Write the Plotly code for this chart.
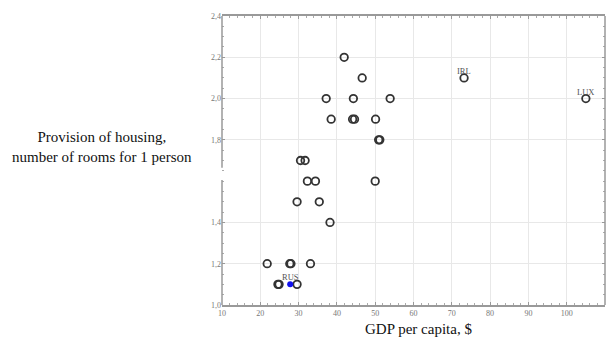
import plotly.graph_objects as go

gdp = [41.9, 46.6, 37.2, 44.3, 53.9, 38.5, 44.1, 44.6, 50.1, 50.9, 51.2, 30.5, 31.7,
       32.3, 34.4, 50.0, 29.6, 35.4, 38.2, 21.8, 27.7, 28.0, 33.1, 24.6, 24.9, 29.6]
rooms = [2.2, 2.1, 2.0, 2.0, 2.0, 1.9, 1.9, 1.9, 1.9, 1.8, 1.8, 1.7, 1.7,
         1.6, 1.6, 1.6, 1.5, 1.5, 1.4, 1.2, 1.2, 1.2, 1.2, 1.1, 1.1, 1.1]
lab_names = ["IRL", "LUX"]
lab_gdp = [73.2, 105.0]
lab_rooms = [2.1, 2.0]
rus_gdp = [27.8]
rus_rooms = [1.1]

x_ticks = [10, 20, 30, 40, 50, 60, 70, 80, 90, 100, 110]
y_ticks = [1.0, 1.2, 1.4, 1.8, 2.0, 2.2, 2.4]
serif = "Liberation Serif, Times New Roman, serif"

fig = go.Figure()
mk = dict(symbol="circle-open", size=7.5, color="#333333", line=dict(width=1.8, color="#333333"))
fig.add_trace(go.Scatter(x=gdp, y=rooms, mode="markers", marker=mk, showlegend=False))
fig.add_trace(go.Scatter(x=lab_gdp, y=lab_rooms, mode="markers", marker=mk, showlegend=False))
fig.add_trace(go.Scatter(x=rus_gdp, y=rus_rooms, mode="markers",
                         marker=dict(symbol="circle", size=6, color="#1010ee"), showlegend=False))
for name, xv, yv in zip(lab_names + ["RUS"], lab_gdp + rus_gdp, lab_rooms + rus_rooms):
    fig.add_annotation(x=xv, y=yv, text=name, showarrow=False, yshift=7,
                       font=dict(family=serif, size=8.5, color="#555555"))

axis_common = dict(showgrid=True, gridcolor="#e8e8e8", gridwidth=1, zeroline=False,
                   ticks="inside", ticklen=3, tickcolor="#999999",
                   tickfont=dict(family=serif, size=8, color="#777777"),
                   mirror="ticks", linecolor="#999999", linewidth=1.5)
fig.update_xaxes(range=[10, 110], tickvals=x_ticks, ticktext=[str(v) for v in x_ticks],
                 showline=True, minor=dict(ticks="inside", ticklen=2, dtick=2, tickcolor="#aaaaaa"),
                 **axis_common)
fig.update_yaxes(range=[1.0, 2.4], tickvals=y_ticks,
                 ticktext=[f"{v:.1f}".replace(".", ",") for v in y_ticks],
                 showline=False, minor=dict(ticks="inside", ticklen=2, dtick=0.05, tickcolor="#aaaaaa"),
                 **axis_common)
# left axis line with a gap, right frame line
for y0, y1 in [(1.0, 1.606), (1.665, 2.4)]:
    fig.add_shape(type="line", xref="paper", x0=0, x1=0, yref="y", y0=y0, y1=y1,
                  line=dict(color="#999999", width=1.5))
fig.add_shape(type="line", xref="paper", x0=1, x1=1, yref="paper", y0=0, y1=1,
              line=dict(color="#999999", width=1.5))

# plot area: l=214, width 383, t=8, height 289 (figure coords; page adds 8px)
fig.add_annotation(xref="paper", yref="paper", x=-0.313, y=0.547, showarrow=False,
                   xanchor="center", yanchor="middle",
                   text="Provision of housing,<br>number of rooms for 1 person",
                   font=dict(family=serif, size=15, color="#111111"), align="center")
fig.add_annotation(xref="paper", yref="paper", x=0.512, y=-0.113, showarrow=False,
                   xanchor="center", yanchor="bottom", borderpad=0,
                   text="GDP per capita, $",
                   font=dict(family=serif, size=15, color="#111111"))

fig.update_layout(width=598, height=331, margin=dict(l=214, r=1, t=8, b=34),
                  plot_bgcolor="white", paper_bgcolor="white")
fig.write_html("out.html")
